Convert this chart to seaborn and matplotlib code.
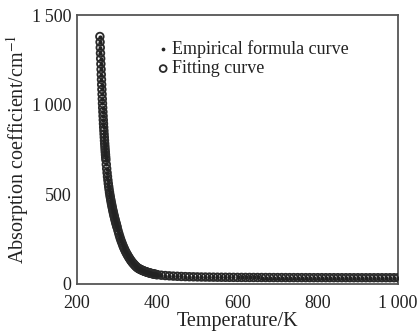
import matplotlib
matplotlib.use("Agg")
import matplotlib.pyplot as plt
import seaborn as sns
import pandas as pd

# ---- data ----
temps_top = [257.0, 257.5, 258.0, 258.5, 259.0, 259.5, 260.0, 260.5, 261.0, 261.5,
             262.0, 262.5, 263.0, 263.5, 264.0, 264.5, 265.0, 265.5, 266.0, 266.5,
             267.0, 267.5, 268.0, 268.5, 269.0, 269.5, 270.0, 270.5, 271.0, 271.5,
             272.0]                                  # 0.5 K steps
vals_top = [1380, 1349, 1318, 1287, 1257, 1227, 1197, 1168, 1140, 1112,
            1085, 1058, 1032, 1007, 983, 960, 937, 915, 894, 874,
            855, 836, 818, 800, 783, 767, 751, 736, 721, 707,
            693]
temps_steep = list(range(273, 301))                  # 1 K steps
vals_steep = [667, 643, 620, 599, 579, 560, 543, 527, 511, 497,
              484, 471, 459, 447, 436, 425, 414, 404, 394, 384,
              375, 366, 357, 348, 340, 332, 324, 316]
temps_mid = list(range(302, 401, 2))                 # 2 K steps
vals_mid = [299, 283, 268, 254, 241, 229, 217, 206, 196, 186,
            177, 169, 161, 153, 146, 139, 132, 126, 120, 115,
            110, 105, 100, 96, 92, 88.5, 86, 83.6, 81, 79,
            77, 75, 73, 71, 69.6, 68, 66.4, 65, 63.5, 62,
            61, 59.7, 58.5, 57.4, 56.4, 55.4, 54.4, 53.5, 52.6, 51.8]
temps_tail = list(range(410, 1001, 10))              # 10 K steps
vals_tail = [49, 47, 45.5, 44, 43, 42, 41.2, 40.5, 40, 39.5,
             39, 38.7, 38.4, 38.1, 37.8, 37.6, 37.4, 37.2, 37, 36.8,
             36.7, 36.6, 36.5, 36.4, 36.3, 36.2, 36.1, 36.0, 35.9, 35.8,
             35.8, 35.7, 35.6, 35.6, 35.5, 35.5, 35.4, 35.4, 35.3, 35.3,
             35.3, 35.2, 35.2, 35.2, 35.1, 35.1, 35.1, 35.1, 35.0, 35.0,
             35.0, 35.0, 35.0, 35.0, 35.0, 35.0, 35.0, 35.0, 35.0, 35.0]

empirical = vals_top + vals_steep + vals_mid + vals_tail
fitting = vals_top + vals_steep + vals_mid + vals_tail
temperature = temps_top + temps_steep + temps_mid + temps_tail

x_ticks = [200, 400, 600, 800, 1000]
x_tick_labels = ["200", "400", "600", "800", "1\u2009000"]
y_ticks = [0, 500, 1000, 1500]
y_tick_labels = ["0", "500", "1\u2009000", "1\u2009500"]

df = pd.DataFrame({"T": temperature, "emp": empirical, "fit": fitting})

sns.set_style("white")
plt.rcParams["font.family"] = ["Liberation Serif", "DejaVu Serif"]
plt.rcParams["mathtext.fontset"] = "stix"

fig = plt.figure(figsize=(4.17, 3.34), dpi=100)
ax = fig.add_axes([77 / 417, 50 / 334, 321 / 417, 269 / 334])

sns.scatterplot(data=df, x="T", y="fit", ax=ax, marker="o", s=30,
                facecolor="none", edgecolor="#2a2a2a", linewidth=1.3,
                label="Fitting curve", zorder=3)
sns.scatterplot(data=df, x="T", y="emp", ax=ax, marker="o", s=9,
                color="#222222", linewidth=0, label="Empirical formula curve",
                zorder=4)

ax.set_xlim(200, 1000)
ax.set_ylim(0, 1500)
ax.set_xticks(x_ticks)
ax.set_xticklabels(x_tick_labels)
ax.set_yticks(y_ticks)
ax.set_yticklabels(y_tick_labels)
ax.tick_params(axis="x", direction="in", length=2.5, pad=8, labelsize=13,
               color="#555555", labelcolor="#222222")
ax.tick_params(axis="y", direction="out", length=2.5, pad=1.5, labelsize=13,
               color="#555555", labelcolor="#222222")
for sp in ax.spines.values():
    sp.set_color("#555555")
    sp.set_linewidth(1.3)

ax.set_xlabel("Temperature/K", fontsize=14.5, labelpad=0, color="#222222")
ax.set_ylabel("Absorption coefficient/cm$^{-1}$", fontsize=14.5, labelpad=1,
              color="#222222")

handles, labels = ax.get_legend_handles_labels()
order = [labels.index("Empirical formula curve"), labels.index("Fitting curve")]
leg = ax.legend([handles[i] for i in order], [labels[i] for i in order],
                loc="upper left", bbox_to_anchor=(0.215, 0.953), frameon=False,
                fontsize=13, handlelength=0.5, handletextpad=0.25,
                labelspacing=0.12, borderpad=0.2, markerscale=0.9,
                labelcolor="#222222")

fig.savefig("out.png", dpi=100)
